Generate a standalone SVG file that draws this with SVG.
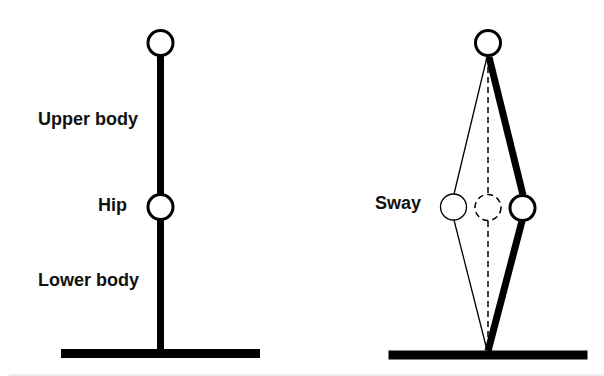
<svg xmlns="http://www.w3.org/2000/svg" width="604" height="376" viewBox="0 0 604 376">
<style>
.lbl{font-family:"Liberation Sans",Arial,sans-serif;font-weight:bold;font-size:18px;fill:#111}
.joint{fill:#fff;stroke:#000;stroke-width:3}
.thin{fill:#fff;stroke:#000;stroke-width:1.3}
.dash{fill:#fff;stroke:#000;stroke-width:1.5;stroke-dasharray:6 4}
.seg{stroke:#000;stroke-width:7;fill:none}
.tseg{stroke:#000;stroke-width:1.3;fill:none}
.dseg{stroke:#000;stroke-width:1.5;stroke-dasharray:6 4;fill:none}
</style>
<rect width="604" height="376" fill="#fff"/>
<g id="connectors">
<line class="seg" x1="160.5" y1="56" x2="160.5" y2="194"/>
<line class="seg" x1="160.5" y1="220" x2="160.5" y2="350"/>
<line class="tseg" x1="487" y1="57" x2="454" y2="194"/>
<line class="tseg" x1="454" y1="220" x2="487" y2="350"/>
<line class="dseg" x1="488" y1="57" x2="488" y2="194"/>
<line class="dseg" x1="488" y1="221" x2="488" y2="350"/>
<line class="seg" x1="489" y1="57" x2="523" y2="195"/>
<line class="seg" x1="522" y1="221" x2="488" y2="351"/>
</g>
<g id="ground-left"><rect x="61" y="349" width="199" height="9" fill="#000"/></g>
<g id="ground-right"><rect x="388.5" y="350.5" width="199" height="9" fill="#000"/></g>
<g id="head-left"><circle class="joint" cx="160.5" cy="43" r="12.5"/></g>
<g id="hip-left"><circle class="joint" cx="160.5" cy="207" r="12.5"/></g>
<g id="head-right"><circle class="joint" cx="488" cy="43" r="12.5"/></g>
<g id="hip-sway-left"><circle class="thin" cx="453.5" cy="207" r="13"/></g>
<g id="hip-sway-center"><circle class="dash" cx="488" cy="207.5" r="13"/></g>
<g id="hip-sway-right"><circle class="joint" cx="522.5" cy="208" r="12.5"/></g>
<g id="labels">
<text class="lbl" x="38" y="125">Upper body</text>
<text class="lbl" x="127" y="211" text-anchor="end">Hip</text>
<text class="lbl" x="38" y="286">Lower body</text>
<text class="lbl" x="375" y="209">Sway</text>
</g>
<line x1="9" y1="375" x2="604" y2="375" stroke="#ddd" stroke-width="1"/>
</svg>
